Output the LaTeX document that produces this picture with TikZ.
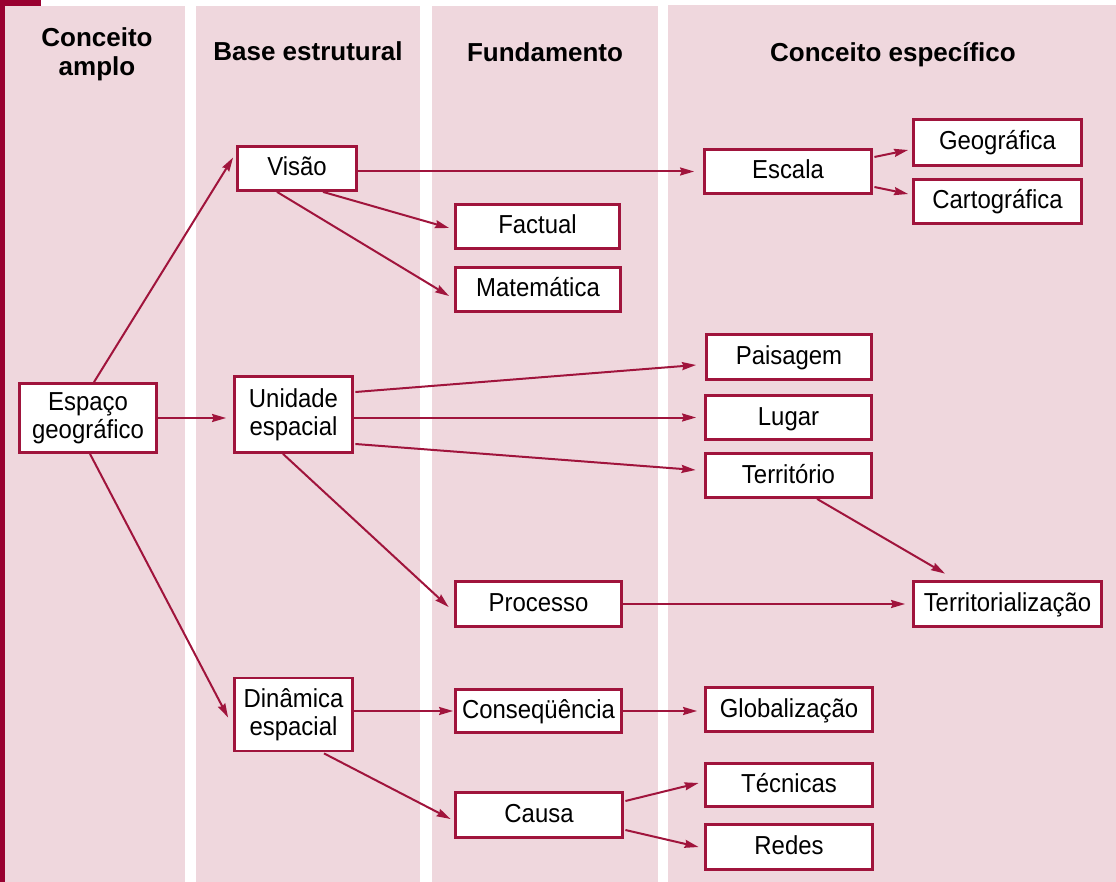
\documentclass[tikz,border=0pt]{standalone}
\usepackage{fontspec}
\setmainfont{Liberation Sans}
\newfontfamily\regfont{Liberation Sans}[FakeStretch=0.92]
\usetikzlibrary{arrows.meta,calc}
\definecolor{pinkbg}{HTML}{EFD7DD}
\definecolor{darkred}{HTML}{990030}
\definecolor{boxred}{HTML}{A0143C}
\begin{document}
\begin{tikzpicture}[x=1pt,y=-1pt,
  boxbase/.style={draw=boxred, line width=2.8pt, fill=white, inner sep=0pt, align=center,
    font=\regfont\fontsize{26}{28}\selectfont},
  box/.style={boxbase, text height=15pt, text depth=0pt},
  box2/.style={boxbase},
  arr/.style={draw=boxred, line width=2pt, -{Stealth[length=14pt,width=8pt,inset=1.5pt]}},
  head/.style={font=\fontsize{26}{29.5}\selectfont\bfseries, align=center, inner sep=0pt}
]
\useasboundingbox (0,0) rectangle (1116,882);
\fill[white] (0,0) rectangle (1116,882);
% columns
\fill[pinkbg] (5,6) rectangle (185,882);
\fill[pinkbg] (196,6) rectangle (420,882);
\fill[pinkbg] (432,6) rectangle (658,882);
\fill[pinkbg] (668,5) rectangle (1116,882);
\fill[darkred] (0,0) rectangle (5,882);
\fill[darkred] (0,0) rectangle (41,6);

% headings
\node[head] (h1) at (97,54.5) {Conceito\\amplo};
\node[head, anchor=base] (h2) at (308,61) {Base estrutural};
\node[head, anchor=base] (h3) at (545,62) {Fundamento};
\node[head, anchor=base] (h4) at (893,62) {Conceito específico};

% nodes
\node[box2, minimum width=137pt, minimum height=69pt] (esp) at (88,418) {Espaço\\geográfico};
\node[box2, minimum width=118pt, minimum height=76pt] (uni) at (293.5,414.5) {Unidade\\espacial};
\node[box2, minimum width=118pt, minimum height=73pt] (din) at (293.5,714.5) {Dinâmica\\espacial};
\node[box, minimum width=119pt, minimum height=44pt] (vis) at (297,168.5) {Visão};
\node[box, minimum width=164pt, minimum height=44pt] (fac) at (537.5,226.5) {Factual};
\node[box, minimum width=165pt, minimum height=44pt] (mat) at (538,289.5) {Matemática};
\node[box, minimum width=166pt, minimum height=45pt] (pro) at (538.5,604) {Processo};
\node[box, minimum width=166pt, minimum height=43pt] (con) at (538.5,711) {Conseqüência};
\node[box, minimum width=167pt, minimum height=45pt] (cau) at (539,815) {Causa};
\node[box, minimum width=167pt, minimum height=44pt] (esc) at (788,171.5) {Escala};
\node[box, minimum width=168pt, minimum height=46pt] (geo) at (997.5,142.5) {Geográfica};
\node[box, minimum width=168pt, minimum height=44pt] (car) at (997.5,201.5) {Cartográfica};
\node[box, minimum width=165pt, minimum height=45pt] (pai) at (789,357) {Paisagem};
\node[box, minimum width=166pt, minimum height=44pt] (lug) at (788.5,417.5) {Lugar};
\node[box, minimum width=166pt, minimum height=44pt] (ter) at (788.5,475.5) {Território};
\node[box, minimum width=188pt, minimum height=45pt] (tzn) at (1007.5,604) {Territorialização};
\node[box, minimum width=167pt, minimum height=44pt] (glo) at (789,709.5) {Globalização};
\node[box, minimum width=167pt, minimum height=43pt] (tec) at (789,785) {Técnicas};
\node[box, minimum width=167pt, minimum height=45pt] (red) at (789,847) {Redes};

% connectors
\draw[arr] ($(esp.north)+(6,0)$) -- ($(vis.west)+(-3,-11)$);
\draw[arr, shorten >=7pt] (esp.east) -- (esp.east -| uni.west);
\draw[arr] ($(esp.south)+(2,0)$) -- ($(din.west)+(-5,3)$);
\draw[arr, shorten >=9pt] (vis.east |- esc.west) -- (esc.west);
\draw[arr] ($(vis.south)+(26,0)$) -- ($(fac.west)+(-5,1.5)$);
\draw[arr] ($(vis.south)+(-20,0)$) -- ($(mat.west)+(-5,6.5)$);
\draw[arr] ($(esc.east)+(1.5,-14.5)$) -- ($(geo.west)+(-4,7.5)$);
\draw[arr] ($(esc.east)+(1.5,15.5)$) -- ($(car.west)+(-4,-7.5)$);
\draw[arr] ($(uni.east)+(1.5,-22.5)$) -- ($(pai.west)+(-9,8)$);
\draw[arr, shorten >=8pt] (uni.east |- lug.west) -- (lug.west);
\draw[arr] ($(uni.east)+(1.5,29.5)$) -- ($(ter.west)+(-8.5,-5.5)$);
\draw[arr] ($(uni.south)+(-10.5,0)$) -- ($(pro.west)+(-5.5,3)$);
\draw[arr, shorten >=7pt] (pro.east) -- (pro.east -| tzn.west);
\draw[arr] ($(ter.south)+(28.5,0)$) -- ($(tzn.north)+(-62.5,-6.5)$);
\draw[arr, shorten >=1pt] (din.east |- con.west) -- (con.west);
\draw[arr, shorten >=7pt] (con.east) -- (con.east -| glo.west);
\draw[arr] ($(din.south)+(30.5,1)$) -- ($(cau.west)+(-3.5,4)$);
\draw[arr] ($(cau.east)+(1.5,-14)$) -- ($(tec.west)+(-5.5,-2)$);
\draw[arr] ($(cau.east)+(1.5,15)$) -- ($(red.west)+(-5.5,0)$);
\end{tikzpicture}
\end{document}
